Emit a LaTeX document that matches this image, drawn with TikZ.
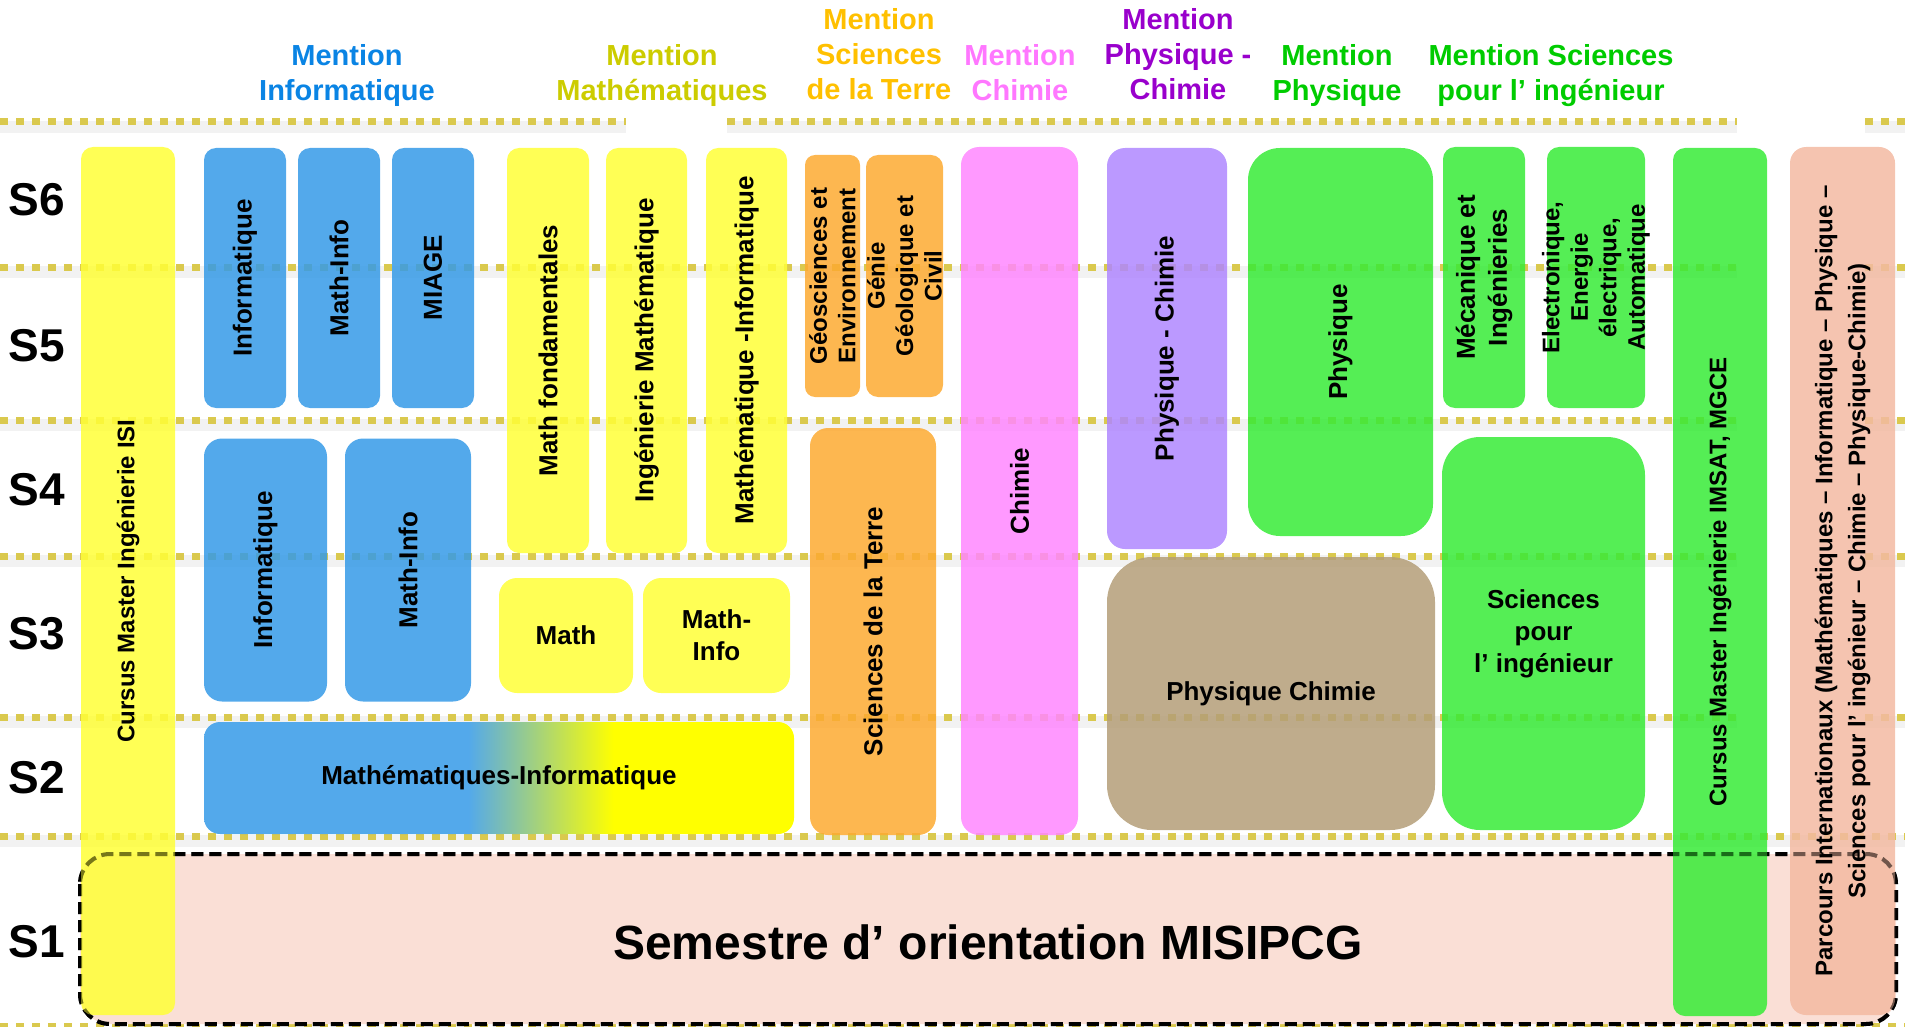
\documentclass[tikz,border=0pt]{standalone}
\usepackage{fontspec}
\setmainfont{Liberation Sans}
\usepackage{tikz}

\definecolor{sepcol}{RGB}{218,201,78}
\definecolor{bluefill}{RGB}{53,154,231}
\definecolor{yellowfill}{RGB}{255,255,55}
\definecolor{orangefill}{RGB}{253,170,49}
\definecolor{pinkfill}{RGB}{255,135,255}
\definecolor{purplefill}{RGB}{175,135,255}
\definecolor{greenfill}{RGB}{55,235,55}
\definecolor{tanfill}{RGB}{180,158,120}
\definecolor{salmonfill}{RGB}{243,186,162}
\definecolor{orientfill}{RGB}{250,223,214}
\definecolor{gradblue}{RGB}{83,169,235}
\definecolor{gradyellow}{RGB}{255,255,0}
\definecolor{infocol}{RGB}{10,132,228}
\definecolor{mathcol}{RGB}{204,204,0}
\definecolor{terrecol}{RGB}{255,192,0}
\definecolor{chimcol}{RGB}{255,119,255}
\definecolor{physchimcol}{RGB}{153,0,204}
\definecolor{physcol}{RGB}{0,204,0}

\pgfdeclarehorizontalshading{mathinfoshade}{100bp}{color(0bp)=(gradblue); color(47.4bp)=(gradblue); color(59.7bp)=(gradyellow); color(100bp)=(gradyellow)}

\tikzstyle{Sep}=[line width=7pt, dash pattern=on 8pt off 8pt, draw=sepcol]
\tikzstyle{SepShadow}=[line width=12pt, draw=black, draw opacity=0.05]
\tikzstyle{Frame}=[line width=4pt, dash pattern=on 12pt off 6pt, rounded corners=30pt]
\tikzstyle{Band}=[rectangle, rotate=90, inner sep=0pt, align=center, fill opacity=0.85, text opacity=1, rounded corners=12pt, font=\bfseries\fontsize{24pt}{33pt}\selectfont]
\tikzstyle{Track}=[Band, font=\bfseries\fontsize{26pt}{32pt}\selectfont]
\tikzstyle{Block}=[rectangle, inner sep=0pt, align=center, fill opacity=0.85, text opacity=1, rounded corners=18pt, font=\bfseries\fontsize{26pt}{32pt}\selectfont]
\tikzstyle{Small}=[font=\bfseries\fontsize{24pt}{28.5pt}\selectfont]
\tikzstyle{Mention}=[anchor=north, inner sep=0pt, align=center, font=\bfseries\fontsize{29pt}{35pt}\selectfont]
\tikzstyle{Sem}=[inner sep=0pt, font=\bfseries\fontsize{46pt}{50pt}\selectfont]

\begin{document}
\begin{tikzpicture}[x=1pt, y=-1pt]
    \useasboundingbox (0,0) rectangle (1905,1027);

    % semester separators
    \draw[SepShadow] (0,127) -- (626,127) (727,127) -- (1737,127) (1865,127) -- (1905,127)
        (0,272) -- (1737,272) (1865,272) -- (1905,272)
        (0,425) -- (1737,425) (1865,425) -- (1905,425)
        (0,561) -- (1737,561) (1865,561) -- (1905,561)
        (0,722) -- (1737,722) (1865,722) -- (1905,722)
        (0,841) -- (1905,841);
    \draw[Sep] (0,122) -- (626,122) (727,122) -- (1737,122) (1865,122) -- (1905,122)
        (0,267) -- (1737,267) (1865,267) -- (1905,267)
        (0,420) -- (1737,420) (1865,420) -- (1905,420)
        (0,556) -- (1737,556) (1865,556) -- (1905,556)
        (0,717) -- (1737,717) (1865,717) -- (1905,717)
        (0,836) -- (1905,836)
        (0,1026) -- (1905,1026);

    % S1
    \draw[Frame, fill=orientfill] (80,854) rectangle (1896,1024);
    \path (988,942) node[inner sep=0pt, font=\bfseries\fontsize{48pt}{56pt}\selectfont] (orient) {Semestre d’ orientation MISIPCG};

    % long bars
    \path
    (128,581) node[Band, fill=yellowfill, minimum width=868pt, minimum height=94pt] (isi) {Cursus Master Ingénierie ISI}
    (1720,582) node[Band, fill=greenfill, minimum width=868pt, minimum height=94pt] (imsat) {Cursus Master Ingénierie IMSAT, MGCE}
    (1842.5,581) node[Band, fill=salmonfill, minimum width=868pt, minimum height=105pt, rounded corners=16pt] (intl) {Parcours Internationaux (Mathématiques – Informatique – Physique –\\Sciences pour l’ ingénieur – Chimie – Physique-Chimie)};

    % informatique
    \path
    (245,278) node[Track, fill=bluefill, minimum width=260pt, minimum height=82pt] (infoS6) {Informatique}
    (339,278) node[Track, fill=bluefill, minimum width=260pt, minimum height=82pt] (mathinfoS6) {Math-Info}
    (433,278) node[Track, fill=bluefill, minimum width=260pt, minimum height=82pt] (miage) {MIAGE}
    (265.5,570) node[Track, fill=bluefill, minimum width=263pt, minimum height=123pt, rounded corners=18pt] (infoS4) {Informatique}
    (408,570) node[Track, fill=bluefill, minimum width=263pt, minimum height=126pt, rounded corners=18pt] (mathinfoS4) {Math-Info};

    % mathematiques
    \path
    (548,350.5) node[Track, fill=yellowfill, minimum width=405pt, minimum height=82pt] (mathfond) {Math fondamentales}
    (646.5,350.5) node[Track, fill=yellowfill, minimum width=405pt, minimum height=81pt] (ingmath) {Ingénierie Mathématique}
    (746.5,350.5) node[Track, fill=yellowfill, minimum width=405pt, minimum height=81pt] (mathinfoM) {Mathématique -Informatique}
    (566,635.5) node[Block, fill=yellowfill, minimum width=134pt, minimum height=115pt] (math) {Math}
    (716.5,635.5) node[Block, fill=yellowfill, minimum width=147pt, minimum height=115pt] (mathinfoS3) {Math-\\Info}
    (499,778) node[Block, fill opacity=1, shade, shading=mathinfoshade, minimum width=590pt, minimum height=112pt, rounded corners=16pt] (mathinfoS2) {Mathématiques-Informatique};

    % sciences de la terre
    \path
    (832.5,276) node[Band, Small, fill=orangefill, minimum width=242pt, minimum height=55pt, rounded corners=10pt] (geo) {Géosciences et\\Environnement}
    (904.5,276) node[Band, Small, fill=orangefill, minimum width=242pt, minimum height=77pt] (genie) {Génie\\Géologique et\\Civil}
    (873,631.5) node[Track, fill=orangefill, minimum width=407pt, minimum height=126pt, rounded corners=18pt] (terre) {Sciences de la Terre};

    % chimie, physique
    \path
    (1019.5,491) node[Track, fill=pinkfill, minimum width=688pt, minimum height=117pt, rounded corners=18pt] (chim) {Chimie}
    (1167,348.5) node[Track, fill=purplefill, minimum width=401pt, minimum height=120pt, rounded corners=18pt] (physchim) {Physique - Chimie}
    (1340.5,342) node[Track, fill=greenfill, minimum width=388pt, minimum height=185pt, rounded corners=32pt] (phys) {Physique}
    (1271,693.5) node[Block, fill=tanfill, minimum width=328pt, minimum height=273pt, rounded corners=45pt] (physchimS3) {Physique Chimie};

    % sciences pour l'ingenieur
    \path
    (1484,277.5) node[Track, fill=greenfill, minimum width=261pt, minimum height=82pt] (meca) {Mécanique et\\Ingénieries}
    (1596,277.5) node[Band, fill=greenfill, minimum width=261pt, minimum height=98pt] (elec) {}
    (1543.5,633.5) node[Block, fill=greenfill, minimum width=203pt, minimum height=393pt, rounded corners=38pt] (spi) {Sciences\\pour\\l’ ingénieur};
    \path (elec.center) node[Small, rotate=90, align=center, inner sep=0pt] (elecText) {Electronique,\\Energie\\électrique,\\Automatique};

    \draw[Frame, draw opacity=0.45] (80,854) rectangle (1896,1024);

    % mentions
    \path
    (347,44) node[Mention, text=infocol] (mInfo) {Mention\\Informatique}
    (662,44) node[Mention, text=mathcol] (mMath) {Mention\\Mathématiques}
    (879,8) node[Mention, text=terrecol] (mTerre) {Mention\\Sciences\\de la Terre}
    (1020,44) node[Mention, text=chimcol] (mChim) {Mention\\Chimie}
    (1178,8) node[Mention, text=physchimcol] (mPhysChim) {Mention\\Physique -\\Chimie}
    (1337,44) node[Mention, text=physcol] (mPhys) {Mention\\Physique}
    (1551,44) node[Mention, text=physcol] (mSpi) {Mention Sciences\\pour l’ ingénieur};

    % semesters
    \path
    (37,200) node[Sem] (s6) {S6}
    (37,346) node[Sem] (s5) {S5}
    (37,490) node[Sem] (s4) {S4}
    (37,634) node[Sem] (s3) {S3}
    (37,778) node[Sem] (s2) {S2}
    (37,942) node[Sem] (s1) {S1};
\end{tikzpicture}
\end{document}
